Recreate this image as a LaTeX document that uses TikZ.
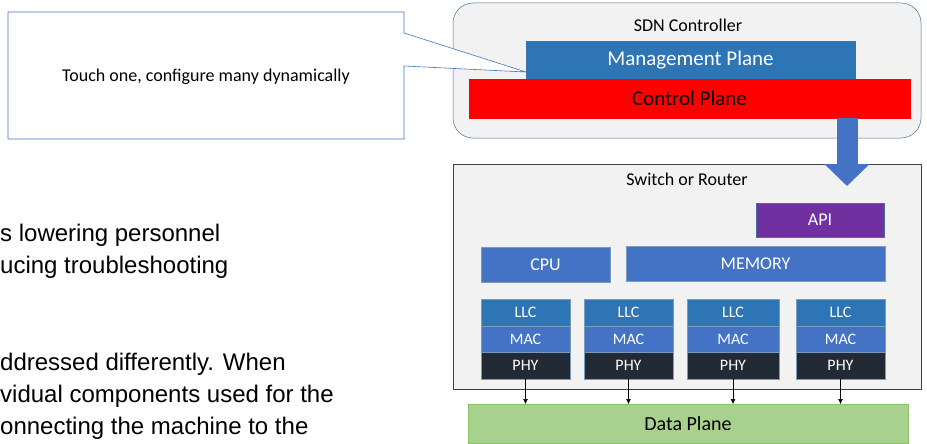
\documentclass[tikz,border=0pt]{standalone}
\usepackage{fontspec}
\setmainfont{Carlito}
\newfontfamily\bodyfont{Liberation Sans}
\usepackage{tikz}
\usetikzlibrary{calc}
\usetikzlibrary{arrows.meta}
\definecolor{paneback}{HTML}{F2F2F2}
\definecolor{paneline}{HTML}{41719C}
\definecolor{mgmtblue}{HTML}{2E75B6}
\definecolor{hwblue}{HTML}{4472C4}
\definecolor{apipurple}{HTML}{7030A0}
\definecolor{phynavy}{HTML}{222A35}
\definecolor{datagreen}{HTML}{A9D18E}
\definecolor{dataline}{HTML}{8CC06A}
\tikzset{
	blk/.style={anchor=north west, inner sep=0pt, outer sep=0pt, line width=0.5pt, text centered}
}
\tikzset{
	layer/.style={blk, draw=paneline!70, text=white, minimum height=#1, font=\fontsize{16}{18}\selectfont},
	layer/.default=27pt
}
\tikzset{
	portlink/.style={-{Latex[length=5pt,width=5pt]}, line width=0.6pt}
}

\begin{document}
\begin{tikzpicture}[x=1pt,y=-1pt]
	\fill[white] (0,0) rectangle (927,444);
	\useasboundingbox (0,0) rectangle (927,444);
	%left text, cut off by the page
	\begin{scope}[every node/.style={anchor=base west, inner sep=0pt, font=\bodyfont\fontsize{24}{28}\selectfont}]
		\node (p1) at (0,241) {s lowering personnel};
		\node (p2) at (0,273) {ucing troubleshooting};
		\node (p3) at (0,370) {ddressed differently. When};
		\node (p4) at (0,402) {vidual components used for the};
		\node (p5) at (0,434) {onnecting the machine to the};
	\end{scope}
	%controller
	\node[blk, draw=paneline, fill=paneback, rounded corners=20pt, minimum width=468pt, minimum height=135pt] (sdn) at (453,3) {};
	\node[font=\fontsize{18}{21}\selectfont] (sdnlabel) at (688,25) {SDN Controller};
	\node[blk, draw=paneline, fill=mgmtblue, text=white, minimum width=329pt, minimum height=38pt, font=\fontsize{21}{24}\selectfont] (mgmt) at (526,41) {Management Plane};
	\node[blk, draw=red, fill=red, minimum width=441pt, minimum height=39pt, font=\fontsize{21}{24}\selectfont] (ctrl) at (469,79) {Control Plane};
	%callout
	\coordinate (pin) at ($(mgmt.south west)+(0,-7)$);
	\node[font=\fontsize{18}{21}\selectfont] (note) at (206,77) {Touch one, configure many dynamically};
	\filldraw[draw=hwblue, fill=white, line width=0.6pt] (8,12) -- (404,12) -- (404,33) -- (pin) -- (404,66) -- (404,139) -- (8,139) -- cycle;
	\node[font=\fontsize{18}{21}\selectfont] at (note) {Touch one, configure many dynamically};
	%switch
	\node[blk, draw=black!75, fill=paneback, minimum width=468pt, minimum height=225pt] (sw) at (453,164) {};
	\node[font=\fontsize{18}{21}\selectfont] (swlabel) at (687,179) {Switch or Router};
	\coordinate (feed) at (847,118);
	\coordinate (feedtip) at (847,186);
	\draw[hwblue, line width=21pt, -{Triangle[length=22pt,width=44pt]}] (feed) -- (feedtip);
	\node[blk, draw=paneline, fill=apipurple, text=white, minimum width=128pt, minimum height=34pt, font=\fontsize{18}{21}\selectfont] (api) at (756,203) {API};
	\node[blk, draw=paneline!70, fill=hwblue, text=white, minimum width=129pt, minimum height=35pt, font=\fontsize{18}{21}\selectfont] (cpu) at (481,247) {CPU};
	\node[blk, draw=paneline!70, fill=hwblue, text=white, minimum width=259pt, minimum height=35pt, font=\fontsize{18}{21}\selectfont] (mem) at (626,246) {MEMORY};
	\node[blk, draw=dataline, fill=datagreen, minimum width=440pt, minimum height=39pt, font=\fontsize{20}{23}\selectfont] (data) at (468,404) {Data Plane};
	\foreach \i/\x/\w in {1/481/89,2/584/89,3/687/92,4/796/89}{
		\node[layer, fill=mgmtblue, minimum width=\w pt] (llc\i) at (\x,299) {LLC};
		\node[layer=26pt, fill=hwblue, minimum width=\w pt] (mac\i) at (llc\i.south west) {MAC};
		\node[layer, fill=phynavy, minimum width=\w pt] (phy\i) at (mac\i.south west) {PHY};
		\draw[portlink] (phy\i.south) -- (phy\i.south |- data.north);
	}
\end{tikzpicture}
\end{document}
